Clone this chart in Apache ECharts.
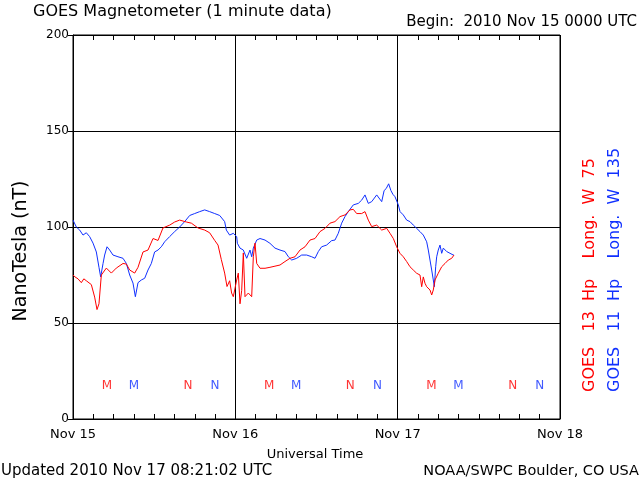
<!DOCTYPE html>
<html>
<head>
<meta charset="utf-8">
<script src="https://cdn.jsdelivr.net/npm/echarts@6/dist/echarts.min.js"></script>
<style>
html,body{margin:0;padding:0;background:#fff;}
#chart{width:640px;height:480px;}
</style>
</head>
<body>
<div id="chart"></div>
<script>
// Hours since 2010 Nov 15 00:00 UTC
const xTickLabels = ['Nov 15', 'Nov 16', 'Nov 17', 'Nov 18'];

// GOES 13 Hp (red) [hour, nT]
const goes13 = [
  [0.0,75],[0.3,74],[0.74,73],[1.23,71],[1.6,73],[1.97,72],[2.71,70],[3.2,63.5],[3.55,57],[3.84,60],
  [4.19,75],[4.93,78.6],[5.67,76],[6.4,78.6],[7.39,81],[7.89,80.7],[8.38,77.6],[9.12,76],[9.61,79],
  [10.35,87],[11.09,88],[11.83,94],[12.57,93],[13.3,99.5],[14.3,101],[15.03,102.6],[15.77,103.6],
  [16.76,102.6],[17.5,102],[18.48,99.5],[19.47,98.4],[20.2,97],[20.95,93],[21.44,90.6],[21.93,83],
  [22.42,76],[22.77,69],[23.16,72],[23.45,65.6],[23.7,63.7],[24.2,72.4],[24.44,76],[24.69,60],
  [24.94,67],[25.18,86.5],[25.43,63.7],[25.92,65.6],[26.42,63.7],[26.66,84.5],[26.91,91.6],
  [27.16,81],[27.65,78.5],[28.39,78.5],[29.12,79],[29.86,79.6],[30.6,80.2],[31.34,82],[32.08,83.7],
  [32.82,84.5],[33.56,88],[34.3,89.7],[35.04,93.2],[35.78,94],[36.52,97.6],[37.26,99.3],[38.0,102],
  [38.73,102.8],[39.47,105.4],[40.21,106.3],[40.95,108.9],[41.44,109.2],[41.94,107],[42.68,107],
  [43.17,108],[43.66,103.6],[44.16,100.2],[44.9,101],[45.64,98.4],[46.38,99.3],[46.87,96.7],
  [47.36,94],[47.85,89.7],[48.34,86.3],[48.83,84.5],[49.33,82],[49.82,79.3],[50.31,77.6],
  [50.81,75.9],[51.3,75],[51.55,68.9],[51.79,74],[52.04,70.7],[52.29,68.9],[52.78,67.2],
  [53.03,64.6],[53.27,67.2],[53.52,72.4],[54.0,75.9],[54.51,79.3],[55.0,81],[55.49,82.8],
  [55.99,83.7],[56.33,85.4]
];

// GOES 11 Hp (blue) [hour, nT]
const goes11 = [
  [0.0,103.6],[0.25,103],[0.49,100],[0.99,98.4],[1.48,95.8],[1.97,97],[2.46,95],[2.96,91.6],
  [3.45,87],[3.84,79],[4.09,74],[4.44,81],[4.68,85.4],[5.03,89.7],[5.42,88],[5.91,85.4],[6.65,84.5],
  [7.39,83.7],[7.89,81],[8.38,75],[8.87,70.8],[9.22,63.7],[9.61,71],[10.1,72.4],[10.6,73.3],
  [11.09,77.6],[11.58,81],[12.07,87],[12.57,88],[13.06,89.7],[13.55,92.3],[14.29,95],[15.03,97.6],
  [15.77,100],[16.51,102.8],[17.25,106],[17.99,107],[18.73,108],[19.47,108.9],[20.2,108],
  [20.95,107],[21.69,106],[22.42,102.8],[22.67,98.4],[23.16,95.8],[23.7,96.7],[24.2,95],
  [24.3,91.5],[24.69,89],[25.18,88],[25.68,83.7],[25.92,82.8],[26.17,88],[26.42,84.5],[26.66,89],
  [27.16,93.2],[27.65,94],[28.39,93.2],[29.12,91.5],[29.86,89],[30.6,88],[31.34,87.2],[31.84,84.5],
  [32.33,82.8],[33.07,83.7],[33.81,85.4],[34.55,85.4],[35.29,84.5],[35.78,83.7],[36.27,87.2],
  [36.76,89.7],[37.5,90.6],[38.24,92.9],[38.73,93.2],[39.22,96.7],[39.72,102],[40.21,105.4],
  [40.7,108],[41.44,111.5],[42.18,112.3],[42.68,114],[43.17,116.7],[43.66,112.3],[44.16,113.2],
  [44.9,116.7],[45.64,113.2],[45.9,113],[46.0,119],[46.3,120],[46.67,122.5],[47.0,119],[47.3,117],
  [47.6,115.8],[48.1,111.5],[48.35,108],[48.83,106.3],[49.33,103.6],[49.82,102.8],[50.31,101],
  [50.81,99.3],[51.3,97.6],[51.79,95.8],[52.29,92.3],[52.53,88],[52.78,82.8],[53.03,77.6],
  [53.27,72.4],[53.42,68.9],[53.62,79.3],[53.77,84.5],[54.0,88],[54.26,90.6],[54.51,86.3],
  [54.75,89],[55.25,87.2],[55.74,86.3],[56.22,85.4],[56.33,85.5]
];

// Local midnight (M) / noon (N) markers
const markerLevel = 17.2;
const goes13MarkerHours = [5, 17, 29, 41, 53, 65];
const goes11MarkerHours = [9, 21, 33, 45, 57, 69];
const markerLabels = ['M', 'N', 'M', 'N', 'M', 'N'];

const RED = '#ff0000';
const BLUE = '#1030ff';
const FONT = 'DejaVu Sans';

const chart = echarts.init(document.getElementById('chart'), null, {renderer: 'canvas'});

function markerSeries(hours, color) {
  return {
    type: 'scatter',
    data: hours.map((h, i) => ({value: [h, markerLevel], name: markerLabels[i]})),
    symbol: 'circle',
    symbolSize: 2,
    itemStyle: {color: 'rgba(0,0,0,0)'},
    silent: true,
    label: {
      show: true, position: 'inside', formatter: p => p.name,
      color: color, fontFamily: FONT, fontSize: 12
    },
    z: 5
  };
}

const xCommon = {
  type: 'value', min: 0, max: 72, interval: 24,
  axisLine: {show: true, lineStyle: {color: '#000', width: 1}},
  axisTick: {show: true, inside: true, length: 5, lineStyle: {color: '#000'}},
  minorTick: {show: true, splitNumber: 8, length: 5, lineStyle: {color: '#000'}},
  splitLine: {show: false}
};

chart.setOption({
  animation: false,
  backgroundColor: '#fff',
  grid: {left: 73, right: 80, top: 35, bottom: 61, show: true, borderColor: '#000', borderWidth: 1},
  xAxis: [
    Object.assign({}, xCommon, {
      position: 'bottom',
      splitLine: {show: true, lineStyle: {color: '#000', width: 1}},
      axisLabel: {
        show: true, margin: 9, color: '#000', fontFamily: FONT, fontSize: 13,
        formatter: v => xTickLabels[Math.round(v / 24)]
      }
    }),
    Object.assign({}, xCommon, {position: 'top', axisLabel: {show: false}})
  ],
  yAxis: {
    type: 'value', min: 0, max: 200, interval: 50,
    axisLine: {show: true, lineStyle: {color: '#000'}},
    axisTick: {show: true, inside: false, length: 5, lineStyle: {color: '#000'}},
    splitLine: {show: true, lineStyle: {color: '#000', width: 1}},
    axisLabel: {margin: 4, color: '#000', fontFamily: FONT, fontSize: 12}
  },
  series: [
    {type: 'line', data: goes11, showSymbol: false, symbol: 'none',
     lineStyle: {color: BLUE, width: 1}, itemStyle: {color: BLUE}, z: 3},
    {type: 'line', data: goes13, showSymbol: false, symbol: 'none',
     lineStyle: {color: RED, width: 1}, itemStyle: {color: RED}, z: 4},
    markerSeries(goes13MarkerHours, RED),
    markerSeries(goes11MarkerHours, BLUE)
  ],
  graphic: [
    {type: 'text', x: 33, y: 12, style: {text: 'GOES Magnetometer (1 minute data)', fill: '#000',
      font: '16px "DejaVu Sans"', textAlign: 'left', textVerticalAlign: 'middle'}},
    {type: 'text', x: 637, y: 22, style: {text: 'Begin:  2010 Nov 15 0000 UTC', fill: '#000',
      font: '15px "DejaVu Sans"', textAlign: 'right', textVerticalAlign: 'middle'}},
    {type: 'text', x: 315, y: 455, style: {text: 'Universal Time', fill: '#000',
      font: '13px "DejaVu Sans"', textAlign: 'center', textVerticalAlign: 'middle'}},
    {type: 'text', x: 1, y: 471, style: {text: 'Updated 2010 Nov 17 08:21:02 UTC', fill: '#000',
      font: '15px "DejaVu Sans"', textAlign: 'left', textVerticalAlign: 'middle'}},
    {type: 'text', x: 639, y: 471, style: {text: 'NOAA/SWPC Boulder, CO USA', fill: '#000',
      font: '14.5px "DejaVu Sans"', textAlign: 'right', textVerticalAlign: 'middle'}},
    {type: 'text', x: 21, y: 251, rotation: Math.PI / 2, style: {text: 'NanoTesla (nT)', fill: '#000',
      font: '19px "DejaVu Sans"', textAlign: 'center', textVerticalAlign: 'middle'}},
    {type: 'text', x: 590, y: 392, rotation: Math.PI / 2, style: {text: 'GOES   13  Hp    Long.  W  75', fill: RED,
      font: '16px "DejaVu Sans"', textAlign: 'left', textVerticalAlign: 'middle'}},
    {type: 'text', x: 615, y: 392, rotation: Math.PI / 2, style: {text: 'GOES   11  Hp    Long.  W  135', fill: BLUE,
      font: '16px "DejaVu Sans"', textAlign: 'left', textVerticalAlign: 'middle'}}
  ]
});
</script>
</body>
</html>
